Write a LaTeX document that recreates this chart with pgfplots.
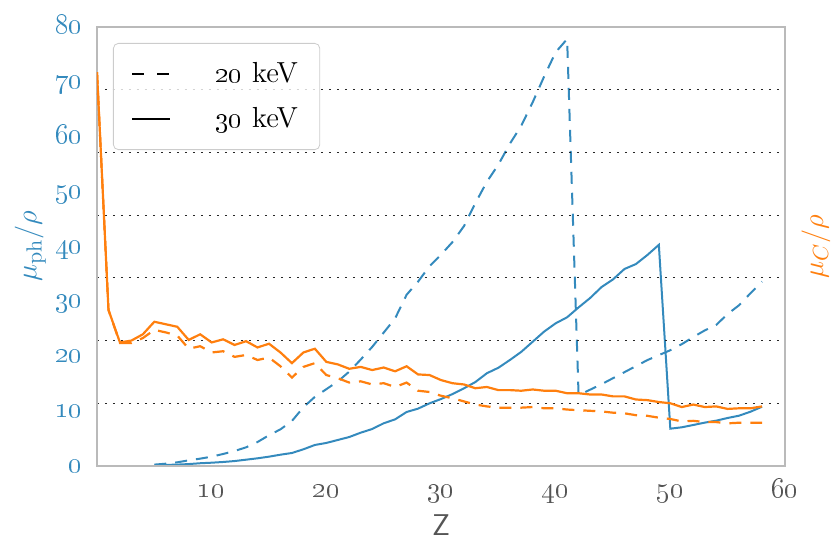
\documentclass[border=0pt]{standalone}
\usepackage{pgfplots}
\pgfplotsset{compat=1.18}
\usepackage{pgfplotstable}
\definecolor{cblue}{HTML}{348ABD}
\definecolor{corange}{HTML}{FF7F0E}
\definecolor{tgray}{HTML}{555555}

\pgfplotstableread{
z v
0 6.28
1 2.49
2 1.97
3 2.00
4 2.10
5 2.30
6 2.26
7 2.22
8 2.01
9 2.10
10 1.97
11 2.02
12 1.93
13 1.99
14 1.89
15 1.95
16 1.81
17 1.64
18 1.81
19 1.87
20 1.66
21 1.62
22 1.55
23 1.58
24 1.53
25 1.57
26 1.51
27 1.59
28 1.46
29 1.45
30 1.37
31 1.32
32 1.30
33 1.24
34 1.26
35 1.21
36 1.21
37 1.20
38 1.22
39 1.20
40 1.20
41 1.16
42 1.16
43 1.14
44 1.14
45 1.11
46 1.11
47 1.06
48 1.05
49 1.02
50 1.00
51 0.94
52 0.98
53 0.94
54 0.95
55 0.91
56 0.92
57 0.92
58 0.95
}\comptonThirty

\pgfplotstableread{
z v
0 6.28
1 2.49
2 1.96
3 1.96
4 2.04
5 2.17
6 2.13
7 2.08
8 1.87
9 1.91
10 1.81
11 1.83
12 1.74
13 1.77
14 1.69
15 1.73
16 1.59
17 1.41
18 1.58
19 1.64
20 1.45
21 1.40
22 1.33
23 1.35
24 1.30
25 1.32
26 1.26
27 1.33
28 1.20
29 1.18
30 1.12
31 1.08
32 1.03
33 0.98
34 0.95
35 0.93
36 0.93
37 0.93
38 0.94
39 0.92
40 0.92
41 0.90
42 0.89
43 0.88
44 0.87
45 0.85
46 0.84
47 0.81
48 0.80
49 0.77
50 0.75
51 0.71
52 0.72
53 0.70
54 0.70
55 0.68
56 0.69
57 0.69
58 0.69
}\comptonTwenty

\pgfplotstableread{
z v
5 0.10
6 0.20
7 0.25
8 0.35
9 0.50
10 0.60
11 0.73
12 0.90
13 1.15
14 1.40
15 1.70
16 2.06
17 2.37
18 3.04
19 3.83
20 4.20
21 4.74
22 5.28
23 6.07
24 6.74
25 7.78
26 8.50
27 9.84
28 10.45
29 11.42
30 12.20
31 13.10
32 14.15
33 15.30
34 16.90
35 17.90
36 19.30
37 20.80
38 22.65
39 24.50
40 26.00
41 27.10
42 28.90
43 30.60
44 32.60
45 34.00
46 35.90
47 36.80
48 38.45
49 40.30
50 6.80
51 7.05
52 7.47
53 7.90
54 8.26
55 8.75
56 9.17
57 9.90
58 10.80
}\photoThirty

\pgfplotstableread{
z v
5 0.25
6 0.42
7 0.67
8 1.03
9 1.34
10 1.70
11 2.19
12 2.73
13 3.40
14 4.37
15 5.60
16 6.68
17 8.20
18 10.70
19 12.60
20 14.00
21 15.40
22 17.20
23 19.40
24 21.70
25 24.30
26 26.90
27 31.20
28 33.60
29 36.40
30 38.50
31 40.80
32 43.70
33 47.90
34 51.80
35 54.90
36 58.70
37 62.00
38 66.30
39 71.00
40 75.40
41 77.80
42 12.90
43 13.90
44 14.90
45 16.00
46 17.10
47 18.20
48 19.30
49 20.20
50 21.10
51 22.20
52 23.50
53 24.70
54 25.70
55 27.70
56 29.30
57 31.50
58 33.60
}\photoTwenty

\begin{document}
\begin{tikzpicture}
% left axis: photoelectric
\begin{axis}[
  scale only axis, width=344pt, height=219.5pt,
  xmin=0, xmax=60, ymin=0, ymax=80,
  major tick length=0pt,
  axis line style={draw=none},
  xtick={10,20,30,40,50,60},
  xticklabels={\oldstylenums{10},\oldstylenums{20},\oldstylenums{30},\oldstylenums{40},\oldstylenums{50},\oldstylenums{60}},
  ytick={0,10,20,30,40,50,60,70,80},
  yticklabels={\oldstylenums{0},\oldstylenums{10},\oldstylenums{20},\oldstylenums{30},\oldstylenums{40},\oldstylenums{50},\oldstylenums{60},\oldstylenums{70},\oldstylenums{80}},
  xticklabel style={anchor=base, inner sep=0pt, yshift=-16pt, text=tgray, font=\fontsize{13.5}{15}\selectfont},
  yticklabel style={anchor=base east, inner sep=0pt, yshift=-3.3pt, xshift=-7pt, text=cblue, font=\fontsize{13.5}{15}\selectfont},
  xlabel={\sffamily Z},
  xlabel style={at={(axis description cs:0.5,-0.135)}, anchor=center, text=tgray, font=\fontsize{15}{17}\selectfont},
  ylabel={$\mu_{\mathrm{ph}}/\rho$},
  ylabel style={at={(axis description cs:-0.097,0.5)}, anchor=center, text=cblue, font=\fontsize{15}{17}\selectfont},
]
\addplot[cblue, line width=1pt, dash pattern=on 6pt off 4.5pt] table[x=z, y=v] {\photoTwenty};
\addplot[cblue, line width=1pt] table[x=z, y=v] {\photoThirty};
\end{axis}
% right axis: Compton
\begin{axis}[
  scale only axis, width=344pt, height=219.5pt,
  xmin=0, xmax=60, ymin=0, ymax=7,
  major tick length=0pt,
  axis line style={draw=black!27, line width=1pt},
  xtick=\empty,
  ytick={0,1,2,3,4,5,6,7},
  yticklabels={},
  ymajorgrids,
  grid style={black!85, line width=0.5pt, dash pattern=on 0.8pt off 3.2pt},
  ylabel={$\mu_{C}/\rho$},
  ylabel style={at={(axis description cs:1.045,0.5)}, anchor=center, text=corange, font=\fontsize{15}{17}\selectfont},
  legend style={at={(axis description cs:0,1)}, anchor=north west, xshift=8pt, yshift=-8pt,
    draw=black!20, rounded corners=2.5pt, fill=white, fill opacity=0.8, text opacity=1,
    font=\fontsize{14.5}{16}\selectfont, inner xsep=9pt, inner ysep=7.5pt, row sep=7pt,
    /tikz/every odd column/.append style={column sep=20pt}},
  legend cell align=left,
  legend image code/.code={\draw[#1] (0pt,0pt) -- (19pt,0pt);},
]
\addplot[corange, line width=1.1pt, dash pattern=on 6pt off 4.5pt, forget plot] table[x=z, y=v] {\comptonTwenty};
\addplot[corange, line width=1.1pt, forget plot] table[x=z, y=v] {\comptonThirty};
\addlegendimage{black, line width=0.9pt, dash pattern=on 6pt off 6.5pt}
\addlegendentry{\oldstylenums{20} keV}
\addlegendimage{black, line width=0.9pt}
\addlegendentry{\oldstylenums{30} keV}
\end{axis}
\pgfresetboundingbox
\path[use as bounding box] (-48.5pt,-36.5pt) rectangle (367.5pt,233pt);
\end{tikzpicture}
\end{document}
